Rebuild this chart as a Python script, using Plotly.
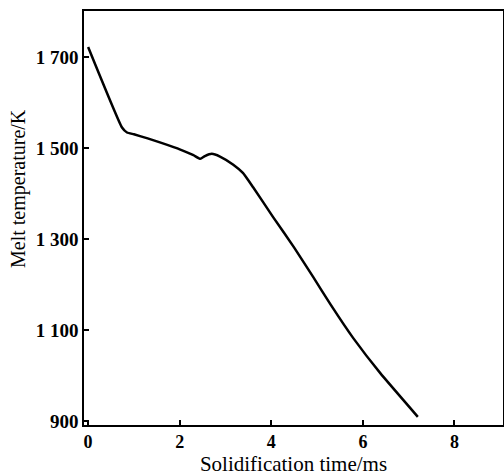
import plotly.graph_objects as go

time_ms = [0, 0.74, 0.85, 1.0, 1.3, 1.6, 2.0, 2.3, 2.45, 2.55, 2.7, 2.88, 3.17, 3.38, 3.6, 4.04, 4.5, 4.91, 5.3, 5.79, 6.38, 7.2]
temp_K = [1722, 1545, 1534, 1530, 1521, 1511, 1497, 1484, 1476, 1482, 1487, 1481, 1463, 1445, 1414, 1348, 1281, 1217, 1155, 1082, 1005, 909]

x_ticks = [0, 2, 4, 6, 8]
x_ticktext = ["0", "2", "4", "6", "8"]
y_ticks = [900, 1100, 1300, 1500, 1700]
y_ticktext = ["900", "1 100", "1 300", "1 500", "1 700"]

W, H = 504, 476
ML, MR, MT, MB = 84, 1, 11, 51

fig = go.Figure()
fig.add_trace(go.Scatter(
    x=time_ms, y=temp_K, mode="lines",
    line=dict(color="black", width=2.5, shape="spline", smoothing=0.4),
    showlegend=False,
))

font_family = "Liberation Serif"
fig.update_layout(
    width=W, height=H,
    margin=dict(l=ML, r=MR, t=MT, b=MB),
    paper_bgcolor="white", plot_bgcolor="white",
    font=dict(family=font_family, color="black", size=18),
)
fig.update_xaxes(
    range=[-0.09, 9.06], automargin=False,
    tickvals=x_ticks, ticktext=x_ticktext,
    ticks="inside", ticklen=5, tickwidth=1.5, tickcolor="black",
    showline=True, linecolor="black", linewidth=1.5, mirror=True,
    showgrid=False, zeroline=False,
    tickfont=dict(family=font_family, size=18, weight="bold"),
    title=dict(text="Solidification time/ms", font=dict(family=font_family, size=21), standoff=7),
)
fig.update_yaxes(
    range=[891, 1801], automargin=False,
    tickvals=y_ticks, ticktext=y_ticktext,
    ticks="inside", ticklen=5, tickwidth=1.5, tickcolor="black",
    showline=True, linecolor="black", linewidth=1.5, mirror=True,
    showgrid=False, zeroline=False,
    tickfont=dict(family=font_family, size=19, weight="bold"),
)
plot_w = W - ML - MR
plot_h = H - MT - MB
fig.add_annotation(
    text="Melt temperature/K", textangle=-90,
    xref="paper", yref="paper",
    x=(18 - ML) / plot_w, y=(H - MB - 189) / plot_h,
    xanchor="center", yanchor="middle", showarrow=False,
    font=dict(family=font_family, size=20, color="black"),
)

fig.write_html(
    "out.html",
    config={"displayModeBar": False},
    post_script="document.body.style.margin='0';document.body.style.overflow='hidden';",
)
